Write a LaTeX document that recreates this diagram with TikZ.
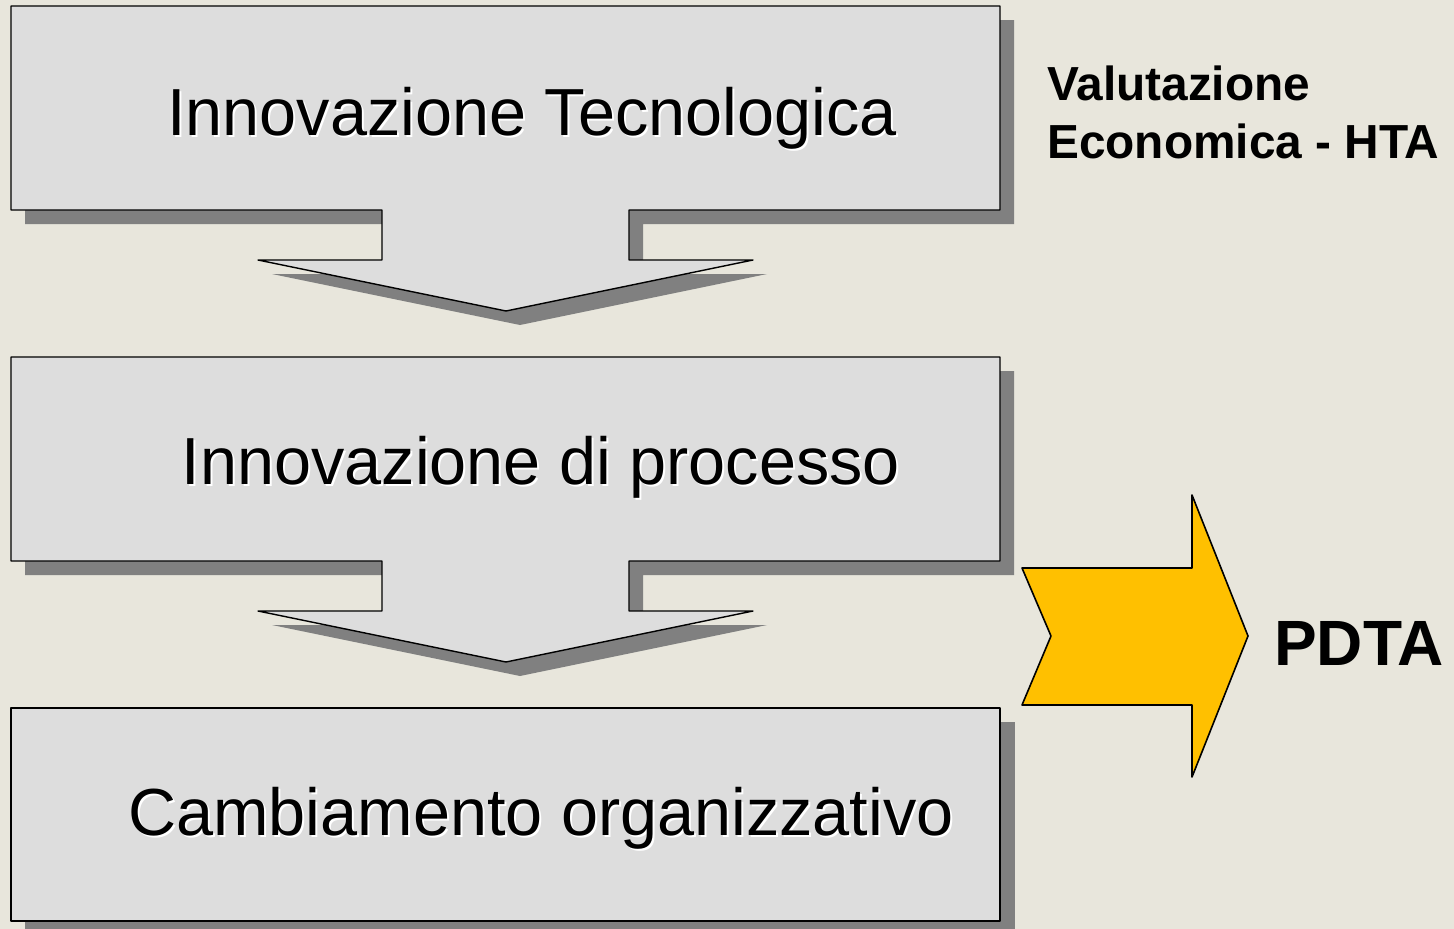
\documentclass[tikz,border=0pt]{standalone}
\usepackage{fontspec}
\setmainfont{Liberation Sans}
\definecolor{bgpaper}{HTML}{E8E6DC}
\definecolor{boxfill}{HTML}{DDDDDD}
\definecolor{boxshade}{HTML}{808080}
\definecolor{amber}{HTML}{FFC000}
\tikzset{
  stage/.style={draw=black, line width=1.4pt, fill=boxfill, line join=round},
  stageshade/.style={fill=boxshade},
  bigtext/.style={font=\fontsize{66.6}{78}\selectfont, inner sep=0pt, anchor=base},
  sidetext/.style={font=\bfseries\fontsize{47.8}{58}\selectfont, inner sep=0pt, anchor=base west},
  pdtatext/.style={font=\bfseries\fontsize{64}{76}\selectfont, inner sep=0pt, anchor=base west},
  flowarrow/.style={draw=black, line width=1.6pt, fill=amber, line join=round}
}
% box with a downward arrow below it; #1 = top y
\newcommand{\stagearrow}[1]{%
  (11,#1) -- (1000,#1) -- (1000,#1+204) -- (629,#1+204) -- (629,#1+254) -- (753,#1+254)
  -- (506,#1+305) -- (258,#1+254) -- (382,#1+254) -- (382,#1+204) -- (11,#1+204) -- cycle}
\begin{document}
\begin{tikzpicture}[x=1pt,y=-1pt]
  \fill[bgpaper] (0,0) rectangle (1454,929);
  \useasboundingbox (0,0) rectangle (1454,929);

  % stage 1
  \begin{scope}[shift={(14,14)}]
    \fill[stageshade] \stagearrow{6};
  \end{scope}
  \draw[stage] \stagearrow{6};
  % stage 2
  \begin{scope}[shift={(14,14)}]
    \fill[stageshade] \stagearrow{357};
  \end{scope}
  \draw[stage] \stagearrow{357};
  % stage 3 (plain box)
  \fill[stageshade] (25,722) rectangle (1015,936);
  \draw[stage] (11,708) rectangle (1000,921);

  % labels with a light drop shadow
  \node[bigtext, white] at (534,137) {Innovazione Tecnologica};
  \node[bigtext] (tech) at (532,135) {Innovazione Tecnologica};
  \node[bigtext, white] at (543,486) {Innovazione di processo};
  \node[bigtext] (proc) at (541,484) {Innovazione di processo};
  \node[bigtext, white] at (543,837) {Cambiamento organizzativo};
  \node[bigtext] (org) at (541,835) {Cambiamento organizzativo};

  \node[sidetext] (hta1) at (1047,100) {Valutazione};
  \node[sidetext] (hta2) at (1047,158) {Economica - HTA};

  % yellow chevron arrow
  \draw[flowarrow] (1022,568) -- (1192,568) -- (1192,495) -- (1248,636) -- (1192,777)
    -- (1192,705) -- (1022,705) -- (1051,636) -- cycle;
  \node[pdtatext] (pdta) at (1274,665) {PDTA};
\end{tikzpicture}
\end{document}
